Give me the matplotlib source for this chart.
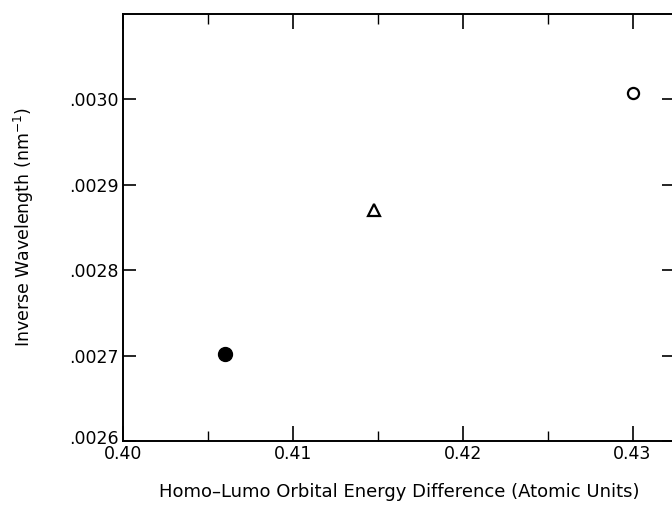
import matplotlib
matplotlib.use("Agg")
import matplotlib.pyplot as plt
import matplotlib.transforms as mtransforms
from matplotlib.ticker import FixedLocator, FuncFormatter, MultipleLocator

# Data
x_filled = [0.406]
y_filled = [0.002702]
x_tri = [0.4148]
y_tri = [0.002871]
x_open = [0.430]
y_open = [0.003007]

x_ticks = [0.40, 0.41, 0.42, 0.43]
y_ticks = [0.0026, 0.0027, 0.0028, 0.0029, 0.0030]

plt.rcParams['font.family'] = ['DejaVu Sans']

fig = plt.figure(figsize=(6.72, 5.16), dpi=100)
ax = fig.add_axes([123/672, (516-441)/516, (675-123)/672, (441-14)/516])

ax.plot(x_filled, y_filled, 'o', color='black', markersize=10)
ax.plot(x_tri, y_tri, '^', markerfacecolor='none', markeredgecolor='black',
        markersize=9, markeredgewidth=1.6)
ax.plot(x_open, y_open, 'o', markerfacecolor='none', markeredgecolor='black',
        markersize=8, markeredgewidth=1.6)

ax.set_xlim(0.40, 0.4325)
ax.set_ylim(0.0026, 0.0031)

ax.xaxis.set_major_locator(FixedLocator(x_ticks))
ax.xaxis.set_minor_locator(MultipleLocator(0.005))
ax.yaxis.set_major_locator(FixedLocator(y_ticks))
ax.xaxis.set_major_formatter(FuncFormatter(lambda v, p: f"{v:.2f}"))
ax.yaxis.set_major_formatter(FuncFormatter(lambda v, p: f"{v:.4f}".lstrip('0')))

ax.tick_params(axis='both', which='major', direction='in', width=1.2,
               top=True, right=True, labelsize=12.5)
ax.tick_params(axis='x', which='major', length=10.5, pad=3)
ax.tick_params(axis='y', which='major', length=9.5, pad=3)
ax.tick_params(axis='x', which='minor', direction='in', length=7, width=1.0,
               top=True, bottom=True)

for s in ax.spines.values():
    s.set_linewidth(1.4)

ax.set_xlabel("Homo\u2013Lumo Orbital Energy Difference (Atomic Units)", fontsize=13, labelpad=14)
ax.set_ylabel("Inverse Wavelength (nm$^{-1}$)", fontsize=12.5, labelpad=24)

fig.canvas.draw()
# raise the bottom y tick label slightly, as in the reference
lbls = ax.get_yticklabels()
for lb in lbls:
    if lb.get_text() == '.0026':
        lb.set_transform(lb.get_transform() + mtransforms.ScaledTranslation(0, 4/100, fig.dpi_scale_trans))

fig.savefig("out.png", dpi=100)
